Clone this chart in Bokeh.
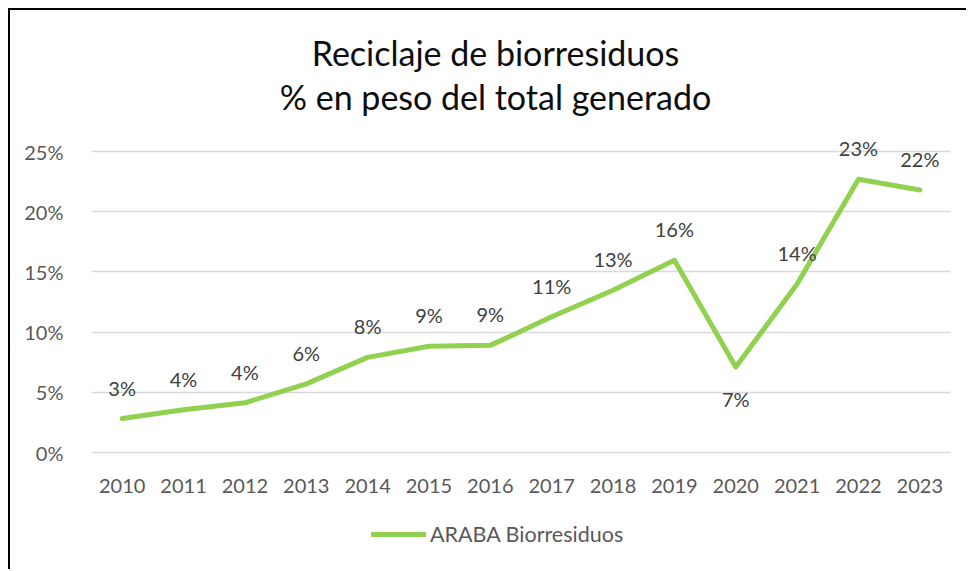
from bokeh.plotting import figure
from bokeh.models import (ColumnDataSource, FactorRange, NumeralTickFormatter,
                          LabelSet, Label, Legend, LegendItem)
from bokeh.core.properties import value
from bokeh.embed import file_html
from bokeh.resources import INLINE

# ---- data ----
years = ["2010", "2011", "2012", "2013", "2014", "2015", "2016",
         "2017", "2018", "2019", "2020", "2021", "2022", "2023"]
araba_biorresiduos = [0.0282, 0.0355, 0.0413, 0.057, 0.079, 0.0883, 0.089,
                      0.1127, 0.1348, 0.1597, 0.071, 0.140, 0.227, 0.218]
y_ticks = [0, 0.05, 0.10, 0.15, 0.20, 0.25]
title_lines = ["Reciclaje de biorresiduos", "% en peso del total generado"]
series_name = "ARABA Biorresiduos"
labels_below = ["2020"]

FONT = "Lato"
W, H = 958, 561

p = figure(width=W, height=H, x_range=FactorRange(*years, range_padding=0),
           y_range=(-0.0988, 0.3671), output_backend="svg", toolbar_location=None,
           title=None,
           min_border_left=81, min_border_right=18, min_border_top=0,
           min_border_bottom=0, background_fill_color="white",
           border_fill_color="white")
p.styles = {"border-left": "2px solid #000000", "border-top": "2px solid #000000",
            "margin-left": "8px", "margin-top": "8px"}
p.outline_line_color = None

# grid
p.xgrid.grid_line_color = None
p.ygrid.grid_line_color = "#D9D9D9"
p.ygrid.grid_line_width = 1.3

# axes
for ax in (p.xaxis[0], p.yaxis[0]):
    ax.axis_line_color = None
    ax.major_tick_line_color = None
    ax.minor_tick_line_color = None
    ax.major_label_text_font = FONT
    ax.major_label_text_font_size = "20px"
    ax.major_label_text_color = "#595959"
p.yaxis[0].ticker = y_ticks
p.yaxis[0].formatter = NumeralTickFormatter(format="0%")
p.yaxis[0].major_label_standoff = 22
p.xaxis[0].fixed_location = 0
p.xaxis[0].major_label_standoff = 20

src = ColumnDataSource(dict(
    x=years, y=araba_biorresiduos,
    lab=[f"{round(v * 100):.0f}%" for v in araba_biorresiduos],
    off=[-32 if yr in labels_below else 31 for yr in years],
))

r = p.line("x", "y", source=src, line_color="#92D050", line_width=5,
           line_cap="round", line_join="round")

p.add_layout(LabelSet(x="x", y="y", text="lab", source=src, y_offset="off",
                      text_align="center", text_baseline="middle",
                      text_font=value(FONT), text_font_size=value("20px"),
                      text_color="#404040"))

# titles (screen units relative to the plot frame)
for txt, yy in zip(title_lines, [519, 475]):
    p.add_layout(Label(x=404, y=yy, x_units="screen", y_units="screen",
                       text=txt, text_align="center", text_baseline="middle",
                       text_font=FONT, text_font_size="34px",
                       text_color="#0d0d0d"))

leg = Legend(items=[LegendItem(label=series_name, renderers=[r])],
             location=(280, 24), orientation="horizontal",
             glyph_width=55, glyph_height=20, label_standoff=4,
             label_text_font=FONT, label_text_font_size="21.5px",
             label_text_color="#595959", border_line_color=None,
             background_fill_alpha=0, padding=0, margin=0)
p.add_layout(leg, "center")

open("out.html", "w").write(file_html(p, INLINE))
